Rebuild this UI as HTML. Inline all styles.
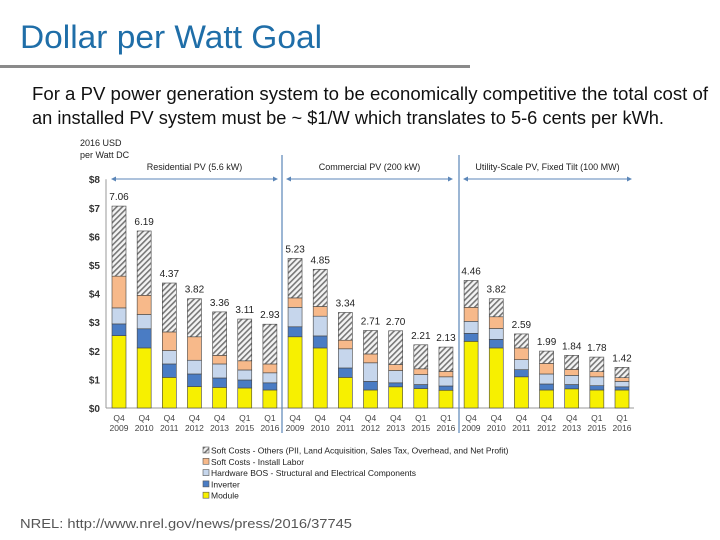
<!DOCTYPE html>
<html><head><meta charset="utf-8"><style>
body{margin:0;background:#fff;}
svg{display:block;font-family:"Liberation Sans",sans-serif;}
</style></head><body>
<svg id="c" width="720" height="540" viewBox="0 0 720 540">
<defs>
<pattern id="hatch" patternUnits="userSpaceOnUse" width="4" height="4" patternTransform="rotate(45)">
<rect width="4" height="4" fill="#f4f4f4"/><rect width="1.6" height="4" fill="#777"/>
</pattern>
</defs>
<text x="20" y="48" font-size="32" fill="#1f6ea8" textLength="302" lengthAdjust="spacingAndGlyphs">Dollar per Watt Goal</text>
<rect x="0" y="65" width="470" height="3" fill="#8a8a8a"/>
<text x="32" y="100" font-size="18" fill="#111" textLength="676" lengthAdjust="spacingAndGlyphs">For a PV power generation system to be economically competitive the total cost of</text>
<text x="32" y="124" font-size="18" fill="#111" textLength="632" lengthAdjust="spacingAndGlyphs">an installed PV system must be ~ $1/W which translates to 5-6 cents per kWh.</text>
<text x="80" y="146" font-size="9" fill="#222">2016 USD</text>
<text x="80" y="158" font-size="9" fill="#222">per Watt DC</text>
<g id="chart"></g>
<g id="legend"></g>
<text x="20" y="528" font-size="13" fill="#555" textLength="332" lengthAdjust="spacingAndGlyphs">NREL: http://www.nrel.gov/news/press/2016/37745</text>
</svg>
<script>
const quarters=["Q4","Q4","Q4","Q4","Q4","Q1","Q1","Q4","Q4","Q4","Q4","Q4","Q1","Q1","Q4","Q4","Q4","Q4","Q4","Q1","Q1"];
const years=["2009","2010","2011","2012","2013","2015","2016","2009","2010","2011","2012","2013","2015","2016","2009","2010","2011","2012","2013","2015","2016"];
const moduleVals=[2.53,2.10,1.07,0.75,0.72,0.70,0.63,2.49,2.10,1.07,0.63,0.74,0.68,0.62,2.33,2.10,1.09,0.63,0.67,0.63,0.63];
const inverterVals=[0.41,0.67,0.47,0.44,0.33,0.28,0.25,0.35,0.42,0.33,0.30,0.14,0.14,0.15,0.28,0.30,0.25,0.21,0.15,0.15,0.11];
const hardwareVals=[0.56,0.50,0.47,0.48,0.49,0.35,0.35,0.68,0.69,0.67,0.65,0.43,0.35,0.32,0.42,0.38,0.35,0.35,0.32,0.31,0.19];
const laborVals=[1.11,0.67,0.65,0.82,0.30,0.32,0.31,0.33,0.34,0.30,0.31,0.21,0.20,0.19,0.49,0.41,0.41,0.37,0.21,0.18,0.13];
const totals=[7.06,6.19,4.37,3.82,3.36,3.11,2.93,5.23,4.85,3.34,2.71,2.70,2.21,2.13,4.46,3.82,2.59,1.99,1.84,1.78,1.42];
const yTicks=[0,1,2,3,4,5,6,7,8];
const segments=["Residential PV (5.6 kW)","Commercial PV (200 kW)","Utility-Scale PV, Fixed Tilt (100 MW)"];

const NS="http://www.w3.org/2000/svg";
const g=document.getElementById('chart');
function el(t,a,p){const e=document.createElementNS(NS,t);for(const k in a)e.setAttribute(k,a[k]);(p||g).appendChild(e);return e;}
const y0=408,pxPer=28.6;
const y=v=>y0-v*pxPer;
const x=i=>119+i*25.15;
const bw=14;

yTicks.forEach(t=>{
  const tx=el('text',{x:100,y:y(t)+4,'font-size':10,'font-weight':'bold','text-anchor':'end',fill:'#333'});
  tx.textContent='$'+t;
  
  
});
const ax=el('line',{x1:106,y1:y(8),x2:106,y2:y0,stroke:'#999','stroke-width':1});


const bx=el('line',{x1:106,y1:y0,x2:634,y2:y0,stroke:'#999','stroke-width':1});



const layers=[
 {vals:moduleVals,fill:'#f7f000',name:'module'},
 {vals:inverterVals,fill:'#4a7cc4',name:'inverter'},
 {vals:hardwareVals,fill:'#c6d6ec',name:'hardware-bos'},
 {vals:laborVals,fill:'#f7b98a',name:'install-labor'}
];
totals.forEach((tot,i)=>{
  let cum=0;
  layers.forEach(L=>{
    const v=L.vals[i];
    const r=el('rect',{x:x(i)-bw/2,y:y(cum+v),width:bw,height:v*pxPer,fill:L.fill,stroke:'#444','stroke-width':0.6});
    
    
    cum+=v;
  });
  const rest=Math.max(tot-cum,0);
  const r=el('rect',{x:x(i)-bw/2,y:y(tot),width:bw,height:rest*pxPer,fill:'url(#hatch)',stroke:'#444','stroke-width':0.6});
  
  
  const lb=el('text',{x:x(i),y:y(tot)-6,'font-size':10,'text-anchor':'middle',fill:'#222'});
  lb.textContent=tot.toFixed(2);
  
  
  const q=el('text',{x:x(i),y:421,'font-size':8.5,'text-anchor':'middle',fill:'#444'});
  q.textContent=quarters[i];
  
  
  const yr=el('text',{x:x(i),y:431,'font-size':8.5,'text-anchor':'middle',fill:'#444'});
  yr.textContent=years[i];
  
  
});
[282,459].forEach(d=>{
  const l=el('line',{x1:d,y1:155,x2:d,y2:433,stroke:'#5b86b8','stroke-width':1.2});
  
  
});
const segRanges=[[111,278],[286,453],[463,632]];
segments.forEach((s,k)=>{
  const [a,b]=segRanges[k];
  const t=el('text',{x:(a+b)/2,y:170,'font-size':9,'text-anchor':'middle',fill:'#222'});
  t.textContent=s;
  
  
  const l=el('line',{x1:a+4,y1:179,x2:b-4,y2:179,stroke:'#5b86b8','stroke-width':1});
  
  
  el('path',{d:`M${a} 179 l5 -2.5 v5z M${b} 179 l-5 -2.5 v5z`,fill:'#5b86b8'});
});

const lg=document.getElementById('legend');
const legendItems=[
 ['url(#hatch)','Soft Costs - Others (PII, Land Acquisition, Sales Tax, Overhead, and Net Profit)'],
 ['#f7b98a','Soft Costs - Install Labor'],
 ['#c6d6ec','Hardware BOS - Structural and Electrical Components'],
 ['#4a7cc4','Inverter'],
 ['#f7f000','Module']
];
legendItems.forEach((it,k)=>{
  const yy=452+k*11.3;
  const r=el('rect',{x:203,y:yy-5,width:6,height:6,fill:it[0],stroke:'#555','stroke-width':0.6},lg);
  
  
  const t=el('text',{x:211,y:yy+1.5,'font-size':8.5,fill:'#222'},lg);
  t.textContent=it[1];
  
  
});
</script>
</body></html>
